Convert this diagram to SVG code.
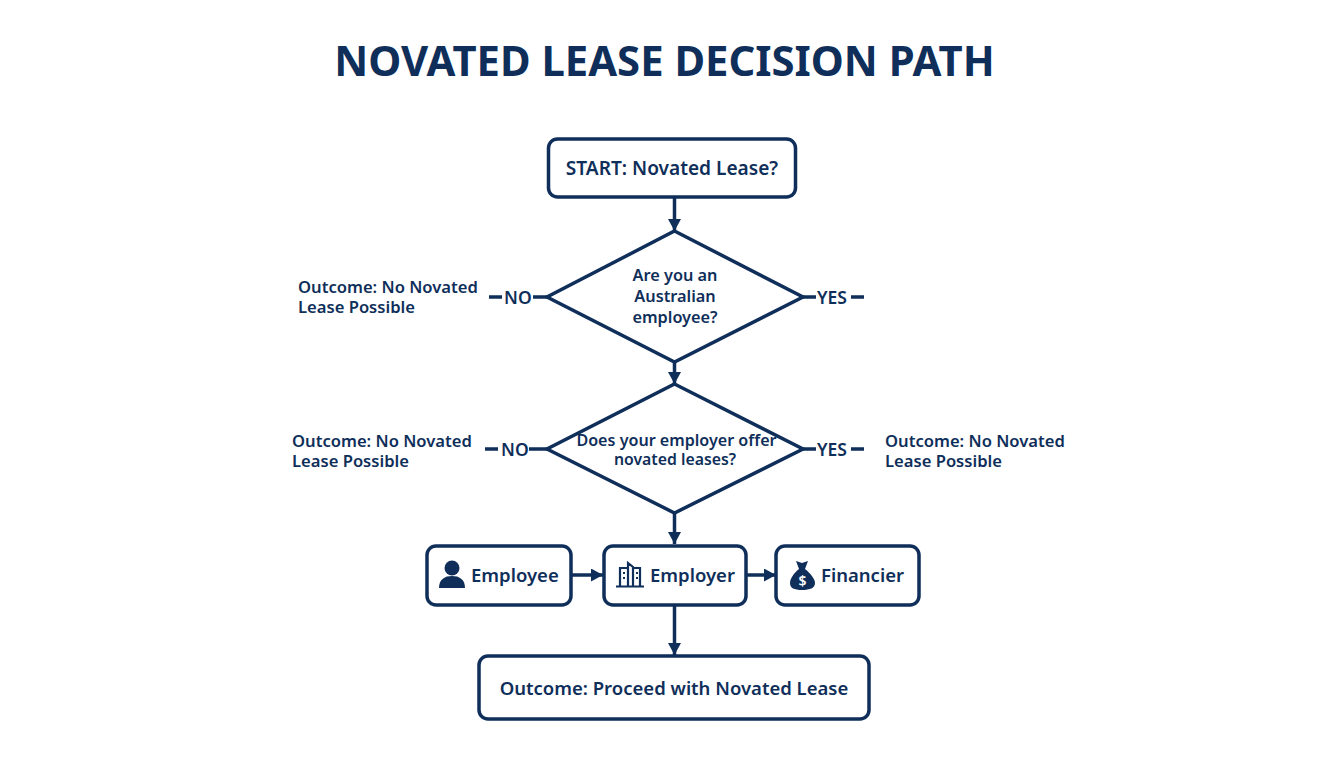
<svg xmlns="http://www.w3.org/2000/svg" width="1344" height="768" viewBox="0 0 1344 768">
<style>
text{font-family:"Noto Sans","Open Sans","Liberation Sans",sans-serif;font-weight:600;fill:#0f2f5a;font-size:18.500px}
.mid{text-anchor:middle}
.q{font-size:16.300px}
.o{font-size:16.600px}
.l{font-size:17.500px}
.box{fill:#fff;stroke:#0f2f5a;stroke-width:3.5}
.dia{fill:#fff;stroke:#0f2f5a;stroke-width:3.5;stroke-linejoin:miter}
.ln{stroke:#0f2f5a;stroke-width:3.5;fill:none}
.ic{fill:#0f2f5a}
.icl{fill:none;stroke:#0f2f5a;stroke-width:2.200}
</style>
<defs><marker id="arr" markerUnits="userSpaceOnUse" markerWidth="13" markerHeight="13" refX="12" refY="6.500" orient="auto"><path d="M0 0L12 6.500L0 13Z" fill="#0f2f5a"/></marker></defs>
<rect width="1344" height="768" fill="#fff"/>
<text id="title" x="664.500" y="75.500" class="mid" style="font-size:41.800px;font-weight:700">NOVATED LEASE DECISION PATH</text>
<g id="connectors">
<path class="ln" d="M674.500 197V231" marker-end="url(#arr)"/>
<path class="ln" d="M674.500 362V384" marker-end="url(#arr)"/>
<path class="ln" d="M674.500 513V544" marker-end="url(#arr)"/>
<path class="ln" d="M572 575H603" marker-end="url(#arr)"/>
<path class="ln" d="M746 575H776" marker-end="url(#arr)"/>
<path class="ln" d="M674.500 605V655" marker-end="url(#arr)"/>
<path class="ln" d="M489 297H502M533 297H547M803 297H816M851 297H864M485 449H498M529 449H547M803 449H816M851 449H864"/>
</g>
<g id="start"><rect class="box" x="548.500" y="139" width="247" height="58" rx="9"/><text x="672" y="175" class="mid" style="font-size:19.100px">START: Novated Lease?</text></g>
<g id="q1"><path class="dia" d="M674.500 231L803 297L674.500 362L547 297Z"/><text class="mid q" x="675" y="281">Are you an</text><text class="mid q" x="675" y="302">Australian</text><text class="mid q" x="675" y="323">employee?</text></g>
<g id="q2"><path class="dia" d="M674.500 384L803 449L674.500 513L547 449Z"/><text class="mid" style="font-size:16.100px" x="676.500" y="446">Does your employer offer</text><text class="mid" style="font-size:15.800px" x="675" y="465">novated leases?</text></g>
<g id="no1"><text class="l" x="504" y="303.500">NO</text></g>
<g id="yes1"><text class="l" x="817" y="303.500">YES</text></g>
<g id="no2"><text class="l" x="501" y="455.500">NO</text></g>
<g id="yes2"><text class="l" x="817" y="455.500">YES</text></g>
<g id="out1"><text class="o" x="298" y="292.500">Outcome: No Novated</text><text class="o" x="298" y="313">Lease Possible</text></g>
<g id="out2"><text class="o" x="292" y="446.500">Outcome: No Novated</text><text class="o" x="292" y="467">Lease Possible</text></g>
<g id="out3"><text class="o" x="885" y="446.500">Outcome: No Novated</text><text class="o" x="885" y="467">Lease Possible</text></g>
<g id="employee"><rect class="box" x="427" y="546" width="144" height="59" rx="9"/>
<circle class="ic" cx="452" cy="568" r="7.500"/><path class="ic" d="M439 588C439 579 445 576 452 576C459 576 465 579 465 588Z"/>
<text x="471" y="582">Employee</text></g>
<g id="employer"><rect class="box" x="604" y="546" width="142" height="59" rx="9"/>
<path class="icl" d="M616 586.500H644M620 586V568H628V586M628 586V563L633 567V586M633 568H640V586M623 573H625M623 578H625M636 573H638M636 578H638"/>
<text x="650" y="582">Employer</text></g>
<g id="financier"><rect class="box" x="776" y="546" width="143" height="59" rx="9"/>
<path class="ic" d="M796 561L802 563L808 561L805 569C811 574 815 579 815 583C815 588 810 590 802 590C794 590 790 588 790 583C790 579 793 574 799 569Z"/>
<text x="802.500" y="586" class="mid" style="fill:#fff;font-size:14px">$</text>
<text x="821" y="582">Financier</text></g>
<g id="proceed"><rect class="box" x="479" y="656" width="390" height="63" rx="9"/><text x="674" y="695" class="mid">Outcome: Proceed with Novated Lease</text></g>
</svg>
